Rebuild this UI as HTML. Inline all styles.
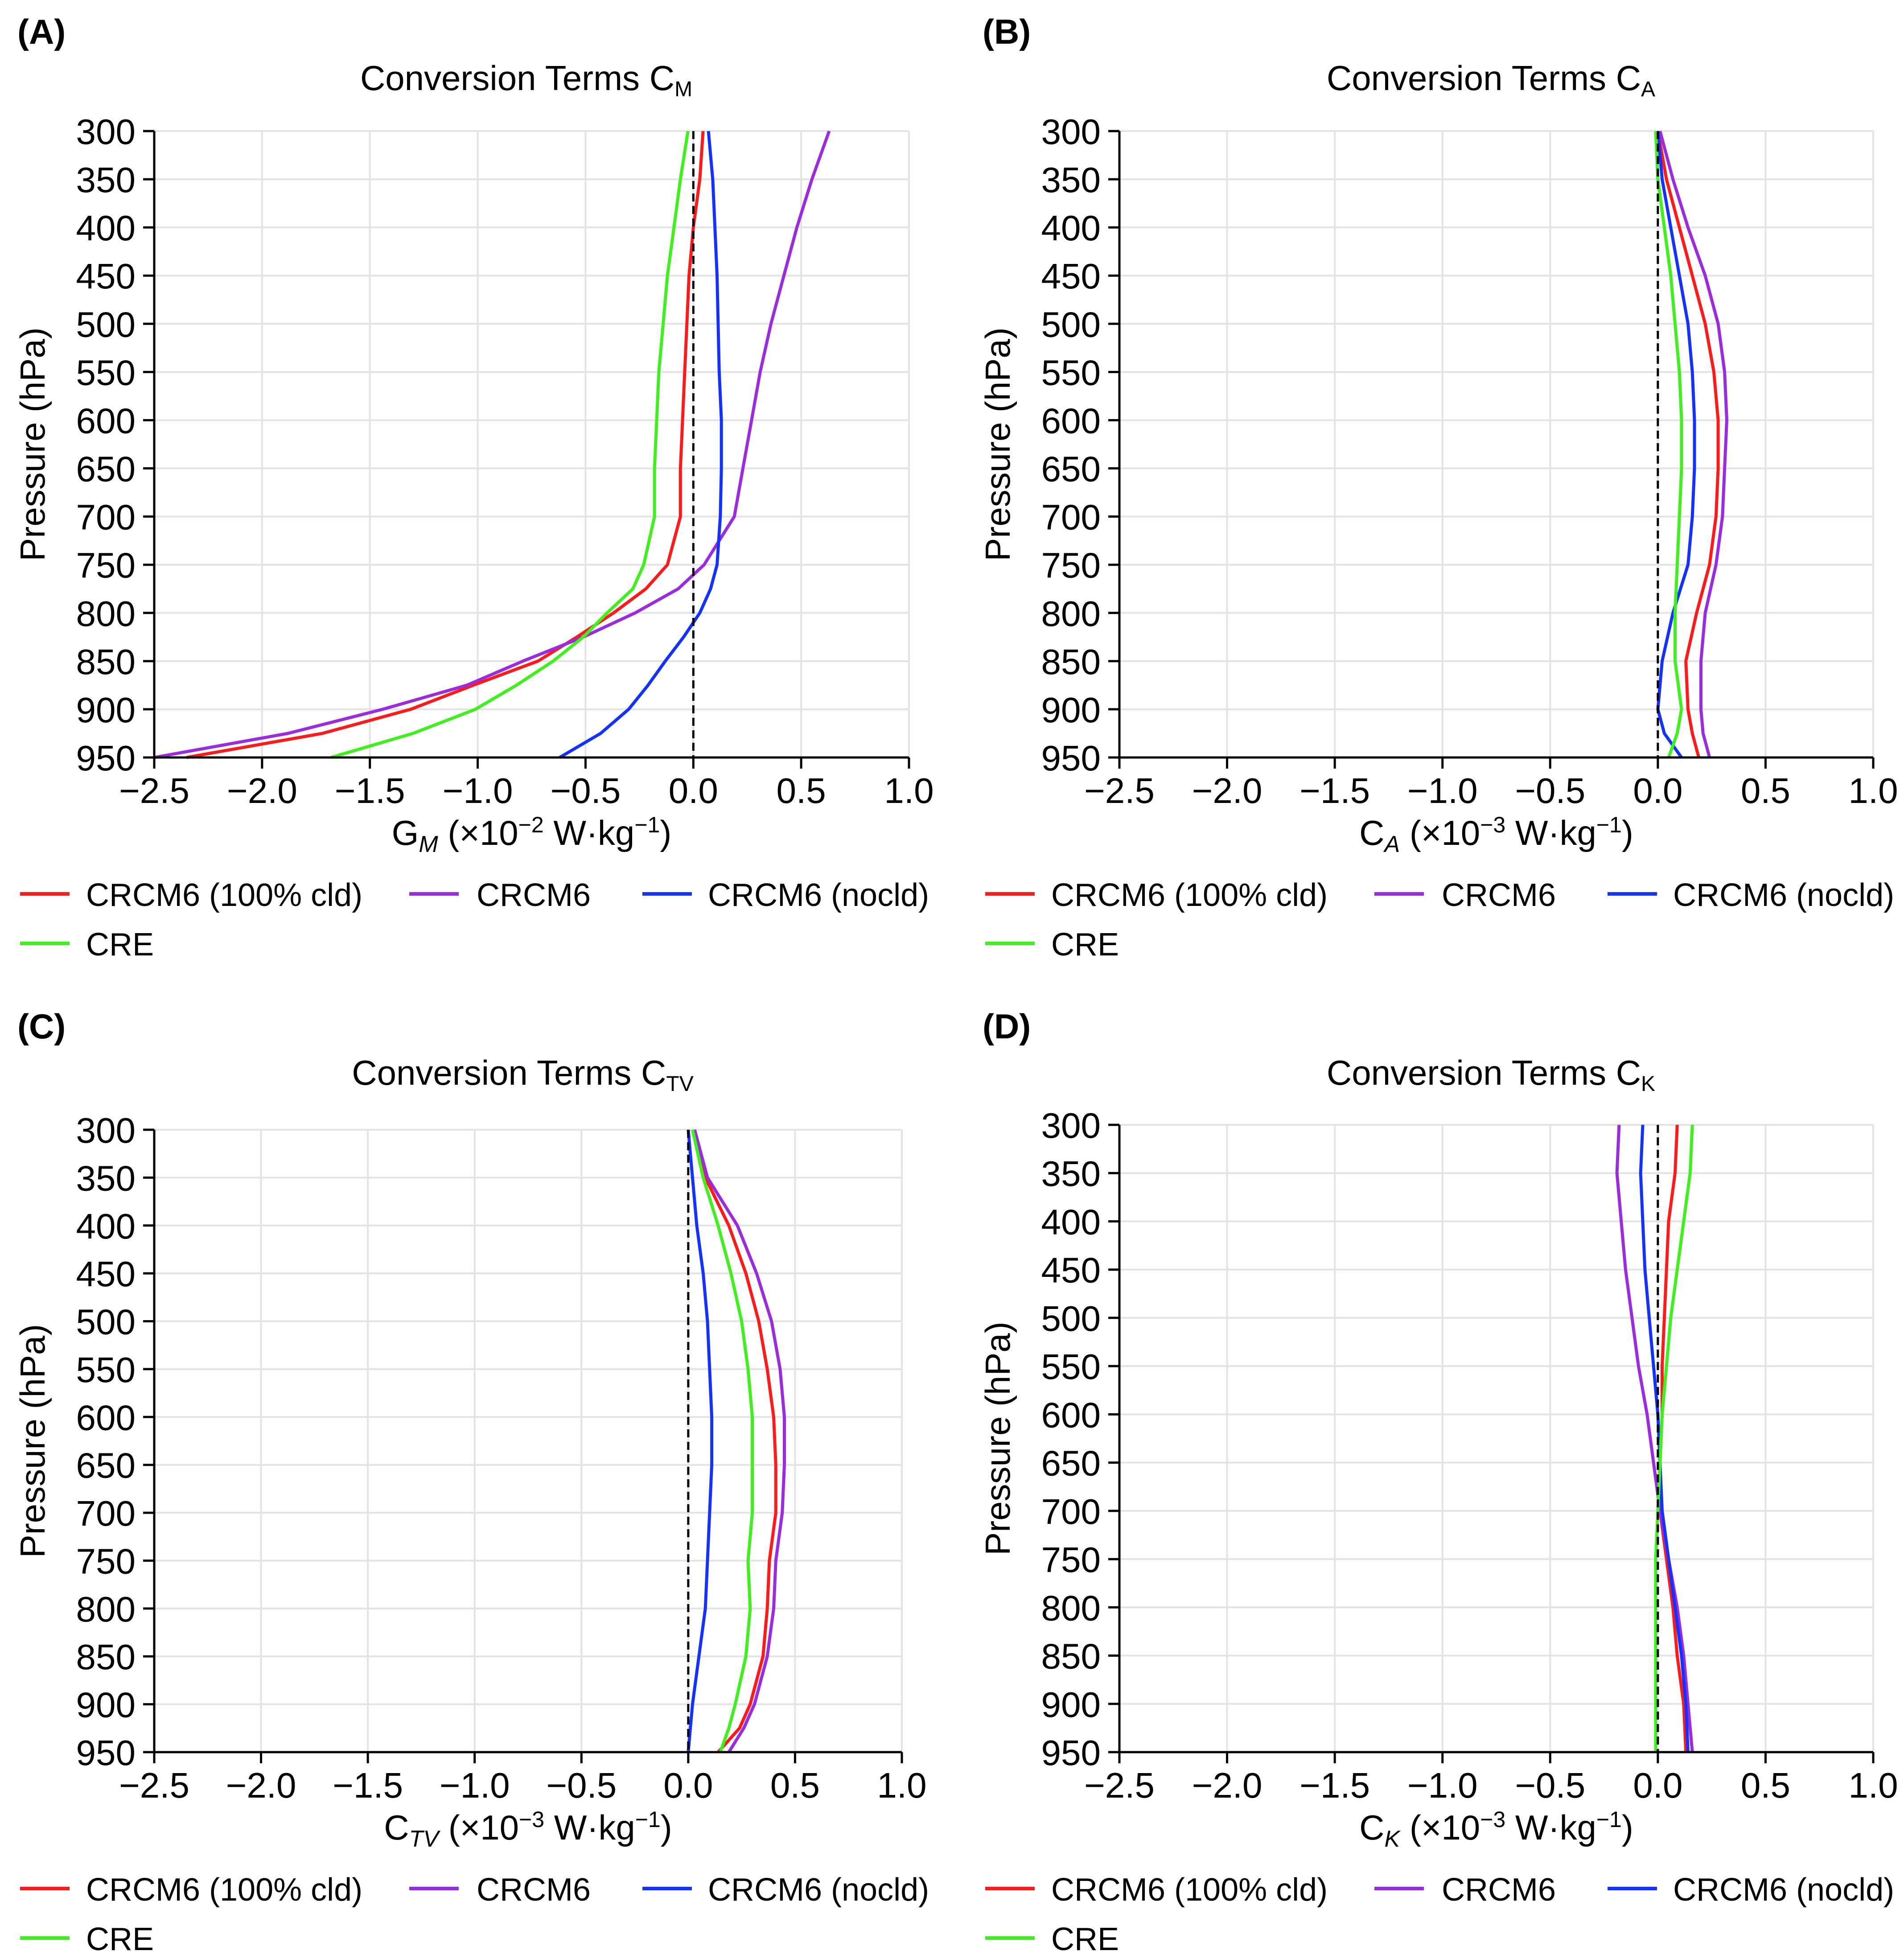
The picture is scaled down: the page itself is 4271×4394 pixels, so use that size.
<!DOCTYPE html>
<html><head><meta charset="utf-8"><style>
html,body{margin:0;padding:0;background:#fff}
svg{display:block}
text{font-family:"Liberation Sans",sans-serif;fill:#000}
</style></head><body>
<svg id="fig" xmlns="http://www.w3.org/2000/svg" width="4271" height="4394" viewBox="0 0 4271 4394"></svg>
<script>
// ---- data ----
const levelsA = [300,350,400,450,500,550,600,650,700,750,775,800,825,850,875,900,925,950];
const levelsBCD = [300,350,400,450,500,550,600,650,700,750,800,850,900,925,950];
const xTicks = [-2.5,-2.0,-1.5,-1.0,-0.5,0.0,0.5,1.0];
const xTickLabels = ["\u22122.5","\u22122.0","\u22121.5","\u22121.0","\u22120.5","0.0","0.5","1.0"];
const yTicks = [300,350,400,450,500,550,600,650,700,750,800,850,900,950];
const seriesNames = ["CRCM6 (100% cld)","CRCM6","CRCM6 (nocld)","CRE"];

const A_red    = [0.045,0.03,0.0,-0.02,-0.03,-0.04,-0.05,-0.06,-0.06,-0.12,-0.22,-0.37,-0.54,-0.72,-1.02,-1.31,-1.72,-2.35];
const A_purple = [0.63,0.55,0.48,0.42,0.36,0.31,0.27,0.23,0.19,0.05,-0.07,-0.27,-0.51,-0.79,-1.05,-1.44,-1.88,-2.5];
const A_blue   = [0.07,0.09,0.10,0.11,0.115,0.12,0.13,0.13,0.125,0.11,0.08,0.03,-0.045,-0.13,-0.21,-0.30,-0.43,-0.62];
const A_green  = [-0.025,-0.06,-0.09,-0.12,-0.14,-0.16,-0.17,-0.18,-0.18,-0.23,-0.28,-0.40,-0.51,-0.65,-0.82,-1.01,-1.30,-1.68];

const B_red    = [0.0,0.04,0.10,0.16,0.22,0.26,0.28,0.28,0.27,0.24,0.18,0.13,0.14,0.16,0.19];
const B_purple = [0.01,0.07,0.14,0.22,0.28,0.31,0.32,0.31,0.30,0.27,0.22,0.20,0.20,0.21,0.24];
const B_blue   = [0.0,0.02,0.06,0.10,0.14,0.16,0.17,0.17,0.16,0.14,0.07,0.02,0.0,0.03,0.11];
const B_green  = [-0.01,0.0,0.03,0.06,0.08,0.10,0.11,0.11,0.10,0.09,0.08,0.08,0.11,0.09,0.05];

const C_red    = [0.02,0.08,0.19,0.27,0.33,0.37,0.40,0.41,0.41,0.38,0.37,0.35,0.29,0.24,0.14];
const C_purple = [0.03,0.09,0.23,0.32,0.39,0.43,0.45,0.45,0.44,0.41,0.40,0.37,0.31,0.26,0.19];
const C_blue   = [0.0,0.02,0.04,0.07,0.09,0.10,0.11,0.11,0.10,0.09,0.08,0.05,0.02,0.01,0.0];
const C_green  = [0.02,0.07,0.14,0.20,0.25,0.28,0.30,0.30,0.30,0.28,0.29,0.27,0.22,0.19,0.15];

const D_red    = [0.09,0.08,0.05,0.04,0.03,0.02,0.02,0.01,0.01,0.04,0.07,0.09,0.12,0.125,0.13];
const D_purple = [-0.18,-0.19,-0.17,-0.15,-0.12,-0.09,-0.05,-0.02,0.01,0.05,0.09,0.12,0.14,0.15,0.16];
const D_blue   = [-0.07,-0.08,-0.07,-0.06,-0.04,-0.02,0.0,0.01,0.02,0.05,0.08,0.11,0.13,0.135,0.14];
const D_green  = [0.16,0.15,0.12,0.09,0.06,0.04,0.02,0.01,0.0,-0.01,-0.01,-0.01,-0.01,-0.01,-0.01];

const colors = ["#ff1a1a","#9a2be0","#1432ff","#3ef01c"];
const NS = "http://www.w3.org/2000/svg";
const svg = document.getElementById("fig");
function mk(tag, attrs, parent){
  const e = document.createElementNS(NS, tag);
  for (const k in attrs) e.setAttribute(k, attrs[k]);
  (parent||svg).appendChild(e);
  return e;
}

const panels = [
  {id:"a", label:"(A)", sub:"M", xsym:"G", xsub:"M", exp:"\u22122", L:346, R:2039, T:294, B:1699, levels:levelsA, data:[A_red,A_purple,A_blue,A_green], off:0},
  {id:"b", label:"(B)", sub:"A", xsym:"C", xsub:"A", exp:"\u22123", L:2511, R:4202, T:294, B:1699, levels:levelsBCD, data:[B_red,B_purple,B_blue,B_green], off:0},
  {id:"c", label:"(C)", sub:"TV", xsym:"C", xsub:"TV", exp:"\u22123", L:346, R:2023, T:2534, B:3930, levels:levelsBCD, data:[C_red,C_purple,C_blue,C_green], off:2231},
  {id:"d", label:"(D)", sub:"K", xsym:"C", xsub:"K", exp:"\u22123", L:2511, R:4202, T:2523, B:3930, levels:levelsBCD, data:[D_red,D_purple,D_blue,D_green], off:2231}
];

panels.forEach(p=>{
  const g = mk("g",{});
  
  
  const xs = v => p.L + (v - (-2.5)) / 3.5 * (p.R - p.L);
  const ys = v => p.T + (v - 300) / 650 * (p.B - p.T);
  const dx = p.L - 346;
  const cx = (p.L + p.R)/2;

  // grid
  xTicks.forEach(t=>{
    const l = mk("line",{x1:xs(t),x2:xs(t),y1:p.T,y2:p.B,stroke:"#e3e3e3","stroke-width":4},g);
    
    
  });
  yTicks.forEach(t=>{
    const l = mk("line",{x1:p.L,x2:p.R,y1:ys(t),y2:ys(t),stroke:"#e3e3e3","stroke-width":4},g);
    
    
  });

  // series
  p.data.forEach((arr,si)=>{
    const pts = arr.map((v,i)=> xs(v).toFixed(1)+","+ys(p.levels[i]).toFixed(1)).join(" ");
    const pl = mk("polyline",{points:pts,fill:"none",stroke:colors[si],"stroke-width":7,"stroke-linejoin":"round"},g);
    
    
  });

  // zero dashed line
  const z = mk("line",{x1:xs(0),x2:xs(0),y1:p.T,y2:p.B,stroke:"#000","stroke-width":5,"stroke-dasharray":"18,10"},g);
  
  

  // axes
  const ax = mk("path",{d:`M${p.L},${p.T} L${p.L},${p.B} L${p.R},${p.B}`,fill:"none",stroke:"#000","stroke-width":5},g);
  
  

  xTicks.forEach((t,i)=>{
    mk("line",{x1:xs(t),x2:xs(t),y1:p.B,y2:p.B+25,stroke:"#000","stroke-width":5},g);
    const tx = mk("text",{x:xs(t),y:p.B+102,"font-size":80,"text-anchor":"middle"},g);
    tx.textContent = xTickLabels[i];
    
    
  });
  yTicks.forEach(t=>{
    mk("line",{x1:p.L-25,x2:p.L,y1:ys(t),y2:ys(t),stroke:"#000","stroke-width":5},g);
    const tx = mk("text",{x:p.L-42,y:ys(t)+29,"font-size":80,"text-anchor":"end"},g);
    tx.textContent = t;
    
    
  });

  // panel label
  const pl = mk("text",{x:39+dx,y:98+p.off,"font-size":78,"font-weight":"bold"},g);
  pl.textContent = p.label;
  
  

  // title
  const ti = mk("text",{x:cx-12,y:202+p.off,"font-size":78,"text-anchor":"middle"},g);
  
  
  ti.appendChild(document.createTextNode("Conversion Terms C"));
  const ts = mk("tspan",{"font-size":48,dy:14},ti); ts.textContent = p.sub;

  // y axis title
  const yt = mk("text",{x:0,y:0,"font-size":78,"text-anchor":"middle",transform:`translate(${100+dx},${(p.T+p.B)/2}) rotate(-90)`},g);
  yt.textContent = "Pressure (hPa)";
  
  

  // x axis title
  const xt = mk("text",{x:cx,y:p.B+196,"font-size":78,"text-anchor":"middle"},g);
  
  
  xt.appendChild(document.createTextNode(p.xsym));
  const s1 = mk("tspan",{"font-size":52,"font-style":"italic",dy:16},xt); s1.textContent = p.xsub;
  const s2 = mk("tspan",{dy:-16},xt); s2.textContent = " (\u00d710";
  const s3 = mk("tspan",{"font-size":50,dy:-28},xt); s3.textContent = p.exp;
  const s4 = mk("tspan",{dy:28},xt); s4.textContent = " W\u00b7kg";
  const s5 = mk("tspan",{"font-size":50,dy:-28},xt); s5.textContent = "\u22121";
  const s6 = mk("tspan",{dy:28},xt); s6.textContent = ")";

  // legend
  const legX = [[45,193],[918,1069],[1441,1588],[45,193]];
  const legY = [0,0,0,111];
  seriesNames.forEach((nm,si)=>{
    const lg = mk("g",{},g);
    
    
    const y0 = 2005 + legY[si] + p.off;
    mk("line",{x1:legX[si][0]+dx,x2:legX[si][0]+111+dx,y1:y0,y2:y0,stroke:colors[si],"stroke-width":8},lg);
    const t = mk("text",{x:legX[si][1]+dx,y:y0+27,"font-size":72},lg);
    t.textContent = nm;
  });
});
</script>
</body></html>
